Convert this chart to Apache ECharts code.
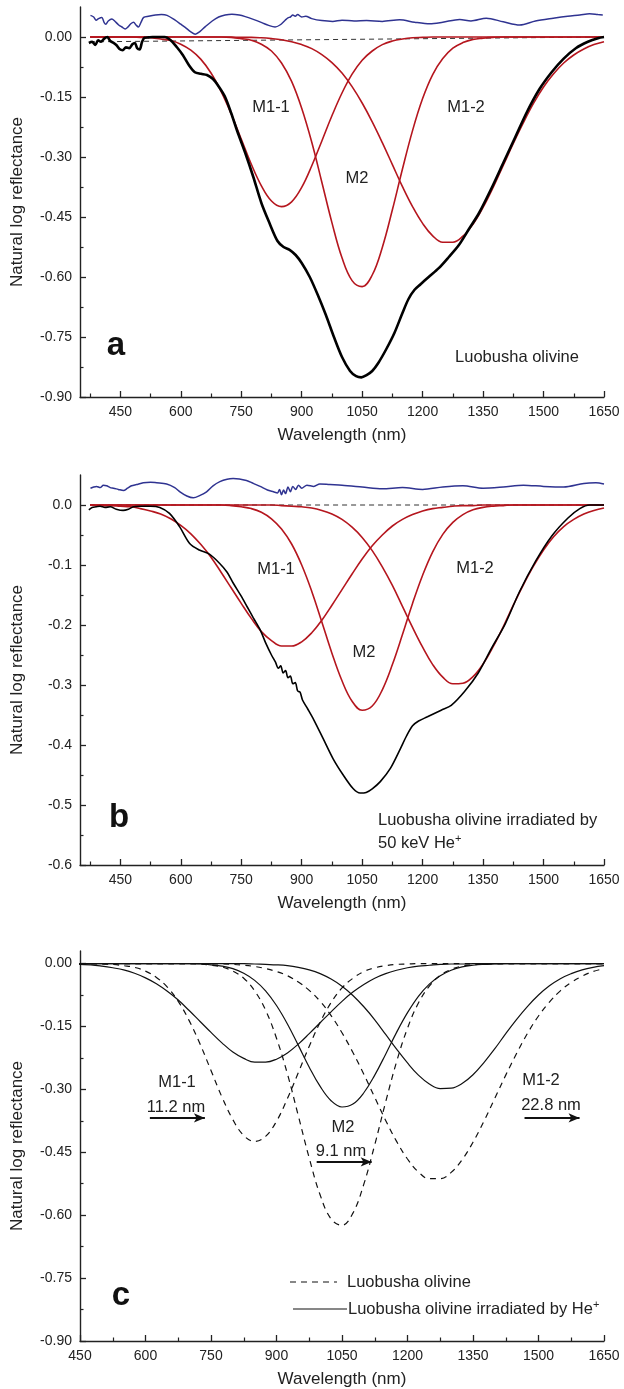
<!DOCTYPE html>
<html><head><meta charset="utf-8">
<script src="https://cdn.jsdelivr.net/npm/echarts@6/dist/echarts.min.js"></script>
<style>html,body{margin:0;padding:0;background:#fff}#c{width:624px;height:1389px}</style>
</head><body><div id="c"></div>
<script>
// ---------------- data ----------------
const wlG = [375,400,425,450,475,500,525,550,575,600,625,650,675,700,725,750,775,800,825,850,875,900,925,950,975,1000,1025,1050,1075,1100,1125,1150,1175,1200,1225,1250,1275,1300,1325,1350,1375,1400,1425,1450,1475,1500,1525,1550,1575,1600,1625,1650];
// panel a: Luobusha olivine, fitted bands
const aM11 = [0,0,0,0,0,-0.001,-0.002,-0.005,-0.009,-0.018,-0.033,-0.056,-0.090,-0.136,-0.192,-0.255,-0.318,-0.372,-0.410,-0.424,-0.412,-0.376,-0.322,-0.260,-0.197,-0.140,-0.093,-0.058,-0.035,-0.019,-0.010,-0.005,-0.002,-0.001,0,0,0,0,0,0,0,0,0,0,0,0,0,0,0,0,0,0];
const aM2  = [0,0,0,0,0,0,0,0,0,0,0,0,0,0,-0.001,-0.004,-0.008,-0.018,-0.035,-0.065,-0.111,-0.178,-0.263,-0.363,-0.464,-0.552,-0.609,-0.624,-0.595,-0.526,-0.432,-0.330,-0.234,-0.154,-0.094,-0.054,-0.028,-0.014,-0.006,-0.003,-0.001,0,0,0,0,0,0,0,0,0,0,0];
const aM12 = [0,0,0,0,0,0,0,0,0,0,0,0,0,0,0,-0.001,-0.001,-0.002,-0.004,-0.007,-0.012,-0.019,-0.029,-0.044,-0.064,-0.090,-0.124,-0.165,-0.212,-0.264,-0.319,-0.374,-0.424,-0.466,-0.497,-0.513,-0.513,-0.498,-0.468,-0.426,-0.376,-0.321,-0.266,-0.214,-0.166,-0.125,-0.092,-0.065,-0.045,-0.030,-0.019,-0.012];
// panel b: irradiated, fitted bands
const bM11 = [0,-0.001,-0.001,-0.002,-0.003,-0.006,-0.010,-0.015,-0.023,-0.034,-0.048,-0.066,-0.087,-0.112,-0.138,-0.164,-0.189,-0.211,-0.226,-0.235,-0.235,-0.228,-0.213,-0.192,-0.167,-0.141,-0.115,-0.090,-0.068,-0.050,-0.035,-0.024,-0.016,-0.010,-0.006,-0.004,-0.002,-0.001,-0.001,0,0,0,0,0,0,0,0,0,0,0,0,0];
const bM2  = [0,0,0,0,0,0,0,0,0,0,0,0,0,0,-0.001,-0.003,-0.006,-0.012,-0.023,-0.040,-0.065,-0.100,-0.144,-0.195,-0.247,-0.293,-0.327,-0.342,-0.335,-0.308,-0.266,-0.216,-0.164,-0.117,-0.078,-0.049,-0.029,-0.016,-0.008,-0.004,-0.002,-0.001,0,0,0,0,0,0,0,0,0,0];
const bM12 = [0,0,0,0,0,0,0,0,0,0,0,0,0,0,0,0,0,0,0,-0.001,-0.002,-0.003,-0.005,-0.009,-0.015,-0.024,-0.037,-0.054,-0.076,-0.103,-0.134,-0.169,-0.204,-0.237,-0.266,-0.287,-0.298,-0.297,-0.286,-0.265,-0.236,-0.203,-0.167,-0.133,-0.102,-0.075,-0.053,-0.036,-0.024,-0.015,-0.009,-0.005];

// measured spectra [wavelength, ln reflectance]
const aSpectrum = [[372,-0.015],[380,-0.012],[388,-0.02],[395,-0.008],[402,-0.012],[410,-0.004],[418,0.0],[425,-0.01],[432,-0.014],[440,-0.02],[448,-0.03],[456,-0.033],[464,-0.026],[472,-0.028],[480,-0.018],[486,-0.015],[492,-0.028],[498,-0.031],[504,-0.012],[510,-0.002],[520,-0.001],[530,0.0],[545,0.0],[560,0.0],[575,-0.008],[590,-0.025],[605,-0.045],[620,-0.07],[635,-0.088],[650,-0.092],[665,-0.095],[680,-0.105],[695,-0.125],[710,-0.15],[725,-0.19],[740,-0.235],[760,-0.29],[780,-0.35],[800,-0.415],[820,-0.465],[840,-0.51],[855,-0.525],[870,-0.532],[885,-0.545],[900,-0.565],[920,-0.6],[940,-0.645],[960,-0.695],[980,-0.75],[1000,-0.8],[1020,-0.835],[1035,-0.848],[1048,-0.851],[1060,-0.846],[1075,-0.835],[1090,-0.815],[1110,-0.78],[1130,-0.74],[1150,-0.69],[1165,-0.655],[1180,-0.632],[1195,-0.618],[1215,-0.6],[1240,-0.578],[1265,-0.55],[1290,-0.52],[1315,-0.48],[1340,-0.44],[1370,-0.38],[1400,-0.315],[1430,-0.25],[1460,-0.185],[1490,-0.13],[1520,-0.088],[1550,-0.054],[1580,-0.028],[1610,-0.012],[1635,-0.003],[1650,0.0]];
const aResidual = [[376,0.054],[384,0.05],[390,0.042],[396,0.046],[404,0.049],[410,0.036],[414,0.032],[420,0.04],[429,0.045],[436,0.04],[446,0.03],[454,0.025],[462,0.02],[468,0.024],[476,0.033],[483,0.037],[489,0.03],[495,0.025],[501,0.036],[508,0.049],[520,0.052],[537,0.055],[552,0.056],[566,0.054],[586,0.042],[600,0.032],[611,0.024],[625,0.013],[636,0.007],[648,0.014],[661,0.026],[678,0.04],[694,0.05],[710,0.055],[727,0.057],[745,0.055],[760,0.051],[780,0.044],[801,0.036],[818,0.029],[834,0.025],[846,0.03],[859,0.042],[866,0.048],[872,0.05],[878,0.055],[884,0.052],[890,0.056],[900,0.05],[910,0.052],[925,0.046],[950,0.041],[977,0.039],[1000,0.042],[1030,0.04],[1061,0.041],[1100,0.039],[1143,0.043],[1180,0.037],[1218,0.033],[1250,0.037],[1292,0.044],[1320,0.04],[1358,0.047],[1400,0.038],[1441,0.030],[1480,0.04],[1524,0.047],[1560,0.052],[1590,0.055],[1614,0.058],[1635,0.056],[1647,0.055]];
const aBaseline = [[375,-0.012],[1650,0.0]];

const bSpectrum = [[372,-0.008],[380,-0.004],[390,-0.003],[400,-0.002],[412,-0.004],[425,-0.003],[440,-0.007],[457,-0.009],[470,-0.007],[482,-0.003],[500,-0.002],[525,-0.002],[548,-0.004],[572,-0.014],[597,-0.036],[622,-0.064],[646,-0.075],[671,-0.082],[696,-0.097],[715,-0.112],[730,-0.13],[750,-0.152],[765,-0.17],[780,-0.188],[797,-0.208],[812,-0.232],[825,-0.25],[835,-0.262],[842,-0.272],[848,-0.268],[854,-0.28],[860,-0.276],[866,-0.288],[872,-0.285],[878,-0.298],[884,-0.296],[890,-0.31],[896,-0.312],[902,-0.325],[915,-0.34],[930,-0.358],[953,-0.389],[978,-0.423],[1003,-0.45],[1028,-0.473],[1045,-0.48],[1060,-0.479],[1075,-0.473],[1095,-0.461],[1120,-0.439],[1145,-0.406],[1160,-0.385],[1175,-0.368],[1190,-0.36],[1212,-0.353],[1246,-0.342],[1271,-0.334],[1304,-0.311],[1338,-0.28],[1370,-0.24],[1405,-0.198],[1440,-0.145],[1480,-0.094],[1520,-0.052],[1560,-0.022],[1590,-0.006],[1615,0.0],[1650,0.0]];
const bResidual = [[376,0.028],[384,0.03],[391,0.031],[400,0.029],[408,0.033],[416,0.032],[425,0.029],[433,0.028],[445,0.026],[458,0.024],[468,0.028],[478,0.032],[490,0.034],[507,0.037],[525,0.038],[540,0.037],[565,0.035],[585,0.029],[598,0.022],[615,0.015],[631,0.012],[648,0.016],[664,0.022],[680,0.032],[697,0.039],[715,0.043],[730,0.044],[763,0.041],[780,0.036],[797,0.031],[815,0.025],[830,0.022],[840,0.02],[845,0.026],[850,0.017],[855,0.025],[860,0.019],[866,0.03],[872,0.022],[878,0.031],[885,0.026],[892,0.033],[900,0.028],[913,0.033],[930,0.031],[945,0.035],[970,0.034],[1000,0.033],[1050,0.03],[1100,0.027],[1150,0.029],[1200,0.026],[1250,0.03],[1300,0.032],[1350,0.028],[1400,0.03],[1450,0.033],[1500,0.031],[1550,0.03],[1600,0.036],[1630,0.037],[1650,0.035]];
const bBaseline = [[375,0.0],[1650,0.0]];

// band shifts shown in panel c [from, to, level]
const shiftM11 = [610, 736, -0.368];
const shiftM2  = [992, 1118, -0.473];
const shiftM12 = [1468, 1594, -0.368];

// tick labels
const xMajor = [450,600,750,900,1050,1200,1350,1500,1650];
const xMinorAB = [375,525,675,825,975,1125,1275,1425,1575];
const xMinorC = [525,675,825,975,1125,1275,1425,1575];
const yMajorAC = [-0.9,-0.75,-0.6,-0.45,-0.3,-0.15,0];
const yMinorAC = [-0.825,-0.675,-0.525,-0.375,-0.225,-0.075];
const yMajorB = [-0.6,-0.5,-0.4,-0.3,-0.2,-0.1,0];
const yMinorB = [-0.55,-0.45,-0.35,-0.25,-0.15,-0.05];

// ---------------- chart ----------------
const F = "'Liberation Sans', Arial, Helvetica, sans-serif";
const INK = '#222';
const RED = '#b5161e';
const BLUE = '#2f3391';
const pair = (arr) => wlG.map((w, i) => [w, arr[i]]);

const grids = [
  {left: 80, top: 7, width: 524, height: 390},
  {left: 80, top: 475, width: 524, height: 390},
  {left: 80, top: 951, width: 524, height: 390}
];

const xAxes = [], yAxes = [];
function addAxes(g, xmin, xmax, xminor, ymin, ymax, ymaj, ymin2, dec) {
  xAxes.push({type:'value', gridIndex:g, min:xmin, max:xmax, position:'bottom',
    axisLine:{show:true, onZero:false, lineStyle:{color:INK, width:1.4}},
    axisTick:{show:true, inside:true, length:6, customValues:xMajor, lineStyle:{color:INK, width:1.3}},
    axisLabel:{customValues:xMajor, margin:8, fontSize:14, color:INK, fontFamily:F, formatter:(v)=>String(Math.round(v))},
    splitLine:{show:false}, name:'Wavelength (nm)', nameLocation:'middle', nameGap:30,
    nameTextStyle:{fontSize:17, color:INK, fontFamily:F}});
  xAxes.push({type:'value', gridIndex:g, min:xmin, max:xmax, position:'bottom',
    axisLine:{show:false, onZero:false},
    axisTick:{show:true, inside:true, length:3.5, customValues:xminor, lineStyle:{color:INK, width:1.2}},
    axisLabel:{show:false}, splitLine:{show:false}});
  yAxes.push({type:'value', gridIndex:g, min:ymin, max:ymax, position:'left',
    axisLine:{show:true, onZero:false, lineStyle:{color:INK, width:1.4}},
    axisTick:{show:true, inside:true, length:6, customValues:ymaj, lineStyle:{color:INK, width:1.3}},
    axisLabel:{customValues:ymaj, margin:8, fontSize:14, color:INK, fontFamily:F,
      formatter:(v)=> (Math.abs(v)<1e-9?0:v).toFixed(dec)},
    splitLine:{show:false}, name:'Natural log reflectance', nameLocation:'middle', nameGap:54,
    nameTextStyle:{fontSize:17, color:INK, fontFamily:F}});
  yAxes.push({type:'value', gridIndex:g, min:ymin, max:ymax, position:'left',
    axisLine:{show:false, onZero:false},
    axisTick:{show:true, inside:true, length:3.5, customValues:ymin2, lineStyle:{color:INK, width:1.2}},
    axisLabel:{show:false}, splitLine:{show:false}});
}
addAxes(0, 350, 1650, xMinorAB, -0.9, 0.075, yMajorAC, yMinorAC, 2);
addAxes(1, 350, 1650, xMinorAB, -0.6, 0.05, yMajorB, yMinorB, 1);
addAxes(2, 450, 1650, xMinorC, -0.9, 0.03, yMajorAC, yMinorAC, 2);

function line(g, data, color, width, type, smooth, extra) {
  return Object.assign({type:'line', xAxisIndex:2*g, yAxisIndex:2*g, data:data, symbol:'none',
    smooth:smooth, silent:true, clip:true,
    lineStyle:{color:color, width:width, type:type||'solid'}}, extra||{});
}
function arrow(s) {
  return [{coord:[s[0], s[2]], symbol:'none'}, {coord:[s[1], s[2]], symbol:'arrow'}];
}

const GS = 0.4;
const series = [
  // panel a
  line(0, aBaseline, '#333', 1, [5,4], false),
  line(0, aResidual, BLUE, 1.5, 'solid', 0.3),
  line(0, pair(aM11), RED, 1.6, 'solid', GS),
  line(0, pair(aM2), RED, 1.6, 'solid', GS),
  line(0, pair(aM12), RED, 1.6, 'solid', GS),
  line(0, aSpectrum, '#000', 2.6, 'solid', 0.3),
  // panel b
  line(1, bBaseline, '#333', 1, [5,4], false),
  line(1, bResidual, BLUE, 1.5, 'solid', 0.3),
  line(1, pair(bM11), RED, 1.6, 'solid', GS),
  line(1, pair(bM2), RED, 1.6, 'solid', GS),
  line(1, pair(bM12), RED, 1.6, 'solid', GS),
  line(1, bSpectrum, '#000', 1.6, 'solid', 0.3),
  // panel c
  line(2, pair(aM11), '#111', 1.2, [6,5], GS),
  line(2, pair(aM2), '#111', 1.2, [6,5], GS),
  line(2, pair(aM12), '#111', 1.2, [6,5], GS),
  line(2, pair(bM11), '#111', 1.2, 'solid', GS),
  line(2, pair(bM2), '#111', 1.2, 'solid', GS),
  line(2, pair(bM12), '#111', 1.2, 'solid', GS, {
    markLine:{silent:true, animation:false, symbolSize:[7,11],
      lineStyle:{color:'#111', width:2, type:'solid'}, label:{show:false},
      data:[arrow(shiftM11), arrow(shiftM2), arrow(shiftM12)]}})
];

function txt(x, y, s, size, opts) {
  return {type:'text', x:x, y:y, silent:true, z:100,
    style:Object.assign({text:s, fontSize:size||16.5, fontFamily:F, fill:INK,
      textAlign:'center', textVerticalAlign:'middle'}, opts||{})};
}
const supRich = {sup:{fontSize:11, verticalAlign:'top', lineHeight:11, fill:INK, fontFamily:F}};
const graphic = [
  txt(271, 107, 'M1-1'), txt(357, 178, 'M2'), txt(466, 107, 'M1-2'),
  txt(517, 357, 'Luobusha olivine'),
  txt(116, 346, 'a', 33, {fontWeight:'bold', fill:'#111'}),
  txt(276, 569, 'M1-1'), txt(364, 652, 'M2'), txt(475, 568, 'M1-2'),
  txt(378, 820, 'Luobusha olivine irradiated by', 16.5, {textAlign:'left'}),
  txt(378, 843, '50 keV He{sup|+}', 16.5, {textAlign:'left', rich:supRich, lineHeight:20}),
  txt(119, 818, 'b', 33, {fontWeight:'bold', fill:'#111'}),
  txt(177, 1082, 'M1-1'), txt(176, 1107, '11.2 nm'),
  txt(343, 1127, 'M2'), txt(341, 1151, '9.1 nm'),
  txt(541, 1080, 'M1-2'), txt(551, 1105, '22.8 nm'),
  txt(121, 1296, 'c', 33, {fontWeight:'bold', fill:'#111'}),
  {type:'line', silent:true, shape:{x1:290, y1:1282, x2:337, y2:1282},
    style:{stroke:'#111', lineWidth:1.2, lineDash:[6,5]}},
  txt(347, 1282, 'Luobusha olivine', 16.5, {textAlign:'left'}),
  {type:'line', silent:true, shape:{x1:293, y1:1309, x2:347, y2:1309},
    style:{stroke:'#111', lineWidth:1.2}},
  txt(348, 1309, 'Luobusha olivine irradiated by He{sup|+}', 16.5, {textAlign:'left', rich:supRich, lineHeight:20})
];

const chart = echarts.init(document.getElementById('c'), null, {renderer:'canvas'});
chart.setOption({animation:false, backgroundColor:'#fff', grid:grids, xAxis:xAxes, yAxis:yAxes, series:series, graphic:graphic});
</script>
</body></html>
